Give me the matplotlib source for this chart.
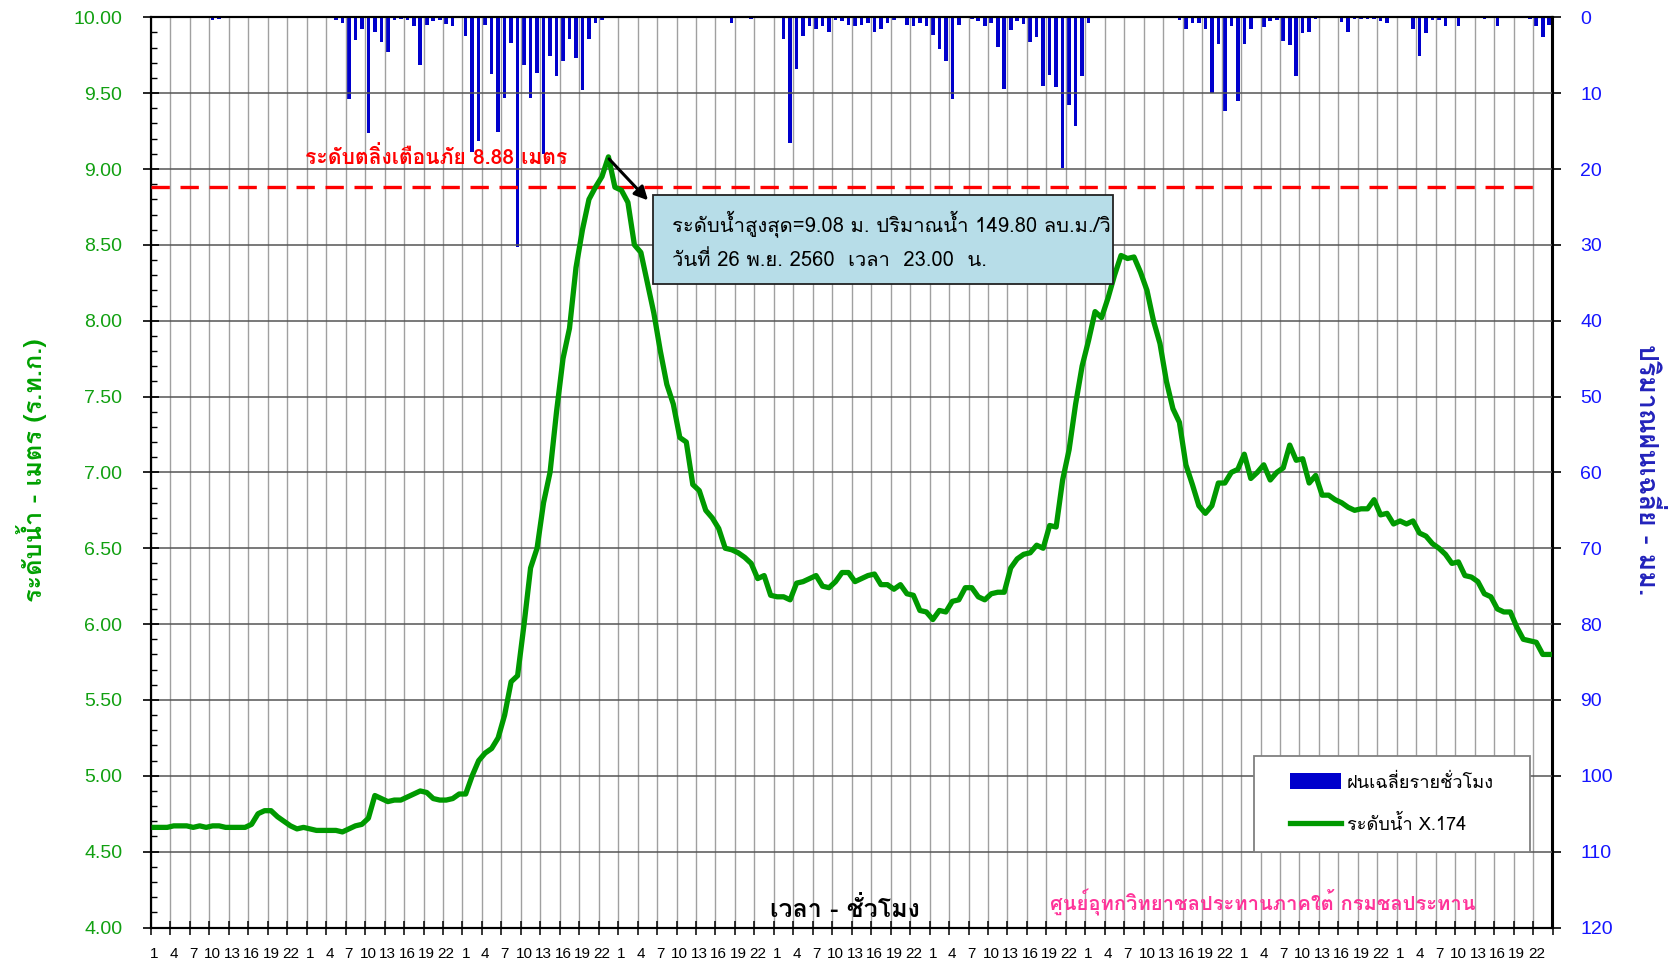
import matplotlib
matplotlib.use('Agg')
import matplotlib.pyplot as plt
from matplotlib import font_manager
from matplotlib.ft2font import FT2Font
from matplotlib.patches import Rectangle
import numpy as np

# ---------------- data ----------------
hour_labels = ['1', '4', '7', '10', '13', '16', '19', '22']
n_days = 9

level_d1 = [4.66, 4.66, 4.66, 4.67, 4.67, 4.67, 4.66, 4.67, 4.66, 4.67, 4.67, 4.66, 4.66, 4.66, 4.66, 4.68, 4.75, 4.77, 4.77, 4.73, 4.70, 4.67, 4.65, 4.66]
level_d2 = [4.65, 4.64, 4.64, 4.64, 4.64, 4.63, 4.65, 4.67, 4.68, 4.72, 4.87, 4.85, 4.83, 4.84, 4.84, 4.86, 4.88, 4.90, 4.89, 4.85, 4.84, 4.84, 4.85, 4.88]
level_d3 = [4.88, 5.00, 5.10, 5.15, 5.18, 5.25, 5.40, 5.62, 5.66, 6.00, 6.37, 6.50, 6.80, 7.00, 7.40, 7.75, 7.95, 8.35, 8.60, 8.80, 8.88, 8.95, 9.08, 8.88]
level_d4 = [8.86, 8.78, 8.50, 8.45, 8.25, 8.05, 7.80, 7.58, 7.45, 7.23, 7.20, 6.92, 6.88, 6.75, 6.70, 6.63, 6.50, 6.49, 6.47, 6.44, 6.40, 6.30, 6.32, 6.19]
level_d5 = [6.18, 6.18, 6.16, 6.27, 6.28, 6.30, 6.32, 6.25, 6.24, 6.28, 6.34, 6.34, 6.28, 6.30, 6.32, 6.33, 6.26, 6.26, 6.23, 6.26, 6.20, 6.19, 6.09, 6.08]
level_d6 = [6.03, 6.09, 6.08, 6.15, 6.16, 6.24, 6.24, 6.18, 6.16, 6.20, 6.21, 6.21, 6.37, 6.43, 6.46, 6.47, 6.52, 6.50, 6.65, 6.64, 6.95, 7.15, 7.45, 7.70]
level_d7 = [7.87, 8.06, 8.02, 8.15, 8.30, 8.43, 8.41, 8.42, 8.32, 8.20, 8.00, 7.85, 7.60, 7.42, 7.33, 7.05, 6.92, 6.78, 6.73, 6.78, 6.93, 6.93, 7.00, 7.02]
level_d8 = [7.12, 6.96, 7.00, 7.05, 6.95, 7.00, 7.03, 7.18, 7.08, 7.09, 6.93, 6.98, 6.85, 6.85, 6.82, 6.80, 6.77, 6.75, 6.76, 6.76, 6.82, 6.72, 6.73, 6.66]
level_d9 = [6.68, 6.66, 6.68, 6.60, 6.58, 6.53, 6.50, 6.46, 6.40, 6.41, 6.32, 6.31, 6.28, 6.20, 6.18, 6.10, 6.08, 6.08, 5.98, 5.90, 5.89, 5.88, 5.80, 5.80]

rain_d1 = [0, 0, 0, 0, 0, 0, 0, 0, 0, 0.3, 0.2, 0, 0, 0, 0.1, 0, 0, 0, 0, 0, 0, 0, 0, 0]
rain_d2 = [0, 0, 0, 0, 0.35, 0.8, 10.8, 3.0, 1.6, 15.3, 1.9, 3.3, 4.6, 0.3, 0.2, 0.3, 1.1, 6.3, 1.0, 0.5, 0.4, 0.9, 1.1, 0.1]
rain_d3 = [2.4, 17.8, 16.3, 1.0, 7.5, 15.1, 10.6, 3.4, 30.3, 6.3, 10.6, 7.4, 18.0, 5.1, 7.7, 5.7, 2.9, 5.3, 9.6, 2.9, 0.8, 0.3, 0, 0]
rain_d4 = [0, 0, 0, 0, 0, 0, 0, 0, 0, 0, 0, 0, 0, 0, 0, 0, 0, 0.7, 0.15, 0, 0.2, 0, 0, 0]
rain_d5 = [0, 2.8, 16.6, 6.8, 2.4, 1.1, 1.6, 1.1, 2.0, 0.4, 0.45, 1.0, 1.1, 1.0, 0.8, 2.0, 1.6, 0.7, 0.3, 0.1, 1.0, 1.1, 0.7, 1.2]
rain_d6 = [2.3, 4.2, 5.7, 10.8, 1.0, 0, 0.2, 0.5, 1.1, 0.8, 3.9, 9.5, 1.7, 0.5, 0.9, 3.2, 2.6, 9.0, 7.6, 9.2, 19.9, 11.5, 14.3, 7.8]
rain_d7 = [0.8, 0.1, 0, 0, 0, 0, 0, 0.1, 0, 0, 0, 0, 0, 0, 0.35, 1.6, 0.75, 0.7, 1.6, 10.0, 3.5, 12.4, 1.2, 11.1]
rain_d8 = [3.5, 1.6, 0.1, 1.3, 0.5, 0.4, 3.1, 3.7, 7.8, 2.1, 2.0, 0.2, 0, 0.1, 0, 0.6, 2.0, 0.2, 0.2, 0.2, 0.2, 0.5, 0.7, 0]
rain_d9 = [0, 0, 1.5, 5.1, 2.1, 0.4, 0.3, 1.2, 0, 1.1, 0, 0, 0, 0.2, 0, 1.1, 0.1, 0, 0, 0, 0.2, 1.1, 2.6, 1.0]

warning_level = 8.88
peak_index = 70
peak_value = 9.08

level = level_d1 + level_d2 + level_d3 + level_d4 + level_d5 + level_d6 + level_d7 + level_d8 + level_d9
rain = rain_d1 + rain_d2 + rain_d3 + rain_d4 + rain_d5 + rain_d6 + rain_d7 + rain_d8 + rain_d9

# ---------------- fonts ----------------
thai = []
for fe in font_manager.fontManager.ttflist:
    try:
        if 0x0E01 in FT2Font(fe.fname).get_charmap():
            thai.append(fe.name)
    except Exception:
        pass
thai = sorted(set(thai))
pref = ['Tahoma', 'Leelawadee UI', 'Loma', 'Noto Sans Thai', 'Garuda', 'Kinnari', 'Norasi', 'Sarabun']
thai_font = None
for p in pref:
    if p in thai:
        thai_font = p
        break
if thai_font is None and thai:
    thai_font = thai[0]
fam = ['Liberation Sans'] + ([thai_font] if thai_font else []) + ['DejaVu Sans']
thai_fam = ([thai_font] if thai_font else []) + ['Liberation Sans', 'DejaVu Sans']
plt.rcParams['font.family'] = fam

# ---------------- figure ----------------
W, H = 1673, 965
fig = plt.figure(figsize=(W / 100, H / 100), dpi=100)
x0, x1, ytop, ybot = 151, 1552.5, 17.3, 927.5
ax = fig.add_axes([x0 / W, 1 - ybot / H, (x1 - x0) / W, (ybot - ytop) / H])
ax2 = ax.twinx()
ax.set_zorder(ax2.get_zorder() + 1)
ax.patch.set_visible(False)

n = len(level)
x = np.arange(n) + 0.5

bars = ax2.bar(x, rain, width=0.55, color='#0000CC', label='ฝนเฉลี่ยรายชั่วโมง')
ax2.set_ylim(120, 0)
ax2.set_yticks(np.arange(0, 121, 10))
ax2.tick_params(axis='y', direction='out', length=6.3, width=1.2, pad=13.8,
                labelsize=14, labelcolor='#1515FF', color='black')

line, = ax.plot(x, level, color='#009900', lw=3.8, solid_joinstyle='round', zorder=5,
                label='ระดับน้ำ X.174')
ax.set_xlim(0, n)
ax.set_ylim(4, 10)
ax.set_yticks(np.arange(4, 10.01, 0.5))
ax.set_yticks(np.arange(4, 10.01, 0.1), minor=True)
ax.yaxis.set_major_formatter(matplotlib.ticker.FormatStrFormatter('%.2f'))
ax.tick_params(axis='y', which='major', direction='inout', length=11.5, width=1.2, pad=14.8,
               labelsize=14, labelcolor='#11A011')
ax.tick_params(axis='y', which='minor', direction='in', length=4, width=1)

ax.set_xticks(np.arange(0, n + 1, 3))
ax.set_xticks(np.arange(0.5, n, 3), minor=True)
ax.set_xticklabels([])
ax.set_xticklabels([hour_labels[i % 8] for i in range(n // 3)], minor=True)
ax.tick_params(axis='x', which='major', direction='inout', length=9.5, width=1.1)
ax.tick_params(axis='x', which='minor', length=0, pad=14, labelsize=11)

ax.grid(axis='x', which='major', color='#A0A0A0', lw=1.0)
ax.grid(axis='y', which='major', color='#555555', lw=1.1)
for a in (ax, ax2):
    for s in a.spines.values():
        s.set_linewidth(1.5)
        s.set_color('black')

# warning line
ax.plot([0, 213.6], [warning_level, warning_level], color='#FF0000', lw=2.4,
        dashes=(5.5, 3.2), zorder=4)
ax.text(23.7, 9.033, 'ระดับตลิ่งเตือนภัย 8.88 เมตร', color='#FF0000', fontsize=15.2,
        fontweight='bold', family=thai_fam, ha='left', va='baseline', zorder=6)

# annotation box
bx0, bx1, by0, by1 = 77.4, 148.2, 8.242, 8.829
ax.add_patch(Rectangle((bx0, by0), bx1 - bx0, by1 - by0, facecolor='#B7DDE8',
                       edgecolor='#222222', lw=1.3, zorder=7))
ax.text(80.3, 8.59, 'ระดับน้ำสูงสุด=9.08 ม. ปริมาณน้ำ 149.80 ลบ.ม./วิ', fontsize=14.5,
        family=thai_fam, color='black', va='baseline', ha='left', zorder=8)
ax.text(80.3, 8.36, 'วันที่ 26 พ.ย. 2560  เวลา  23.00  น.', fontsize=14.5,
        family=thai_fam, color='black', va='baseline', ha='left', zorder=8)
ax.annotate('', xy=(76.9, 8.78), xytext=(peak_index + 0.3, peak_value),
            arrowprops=dict(arrowstyle='-|>', color='black', lw=2.2, mutation_scale=20),
            zorder=8)

# legend
lx0, ly0, lw_, lh_ = 0.787, 0.083, 0.197, 0.1058
ax.add_patch(Rectangle((lx0, ly0), lw_, lh_, transform=ax.transAxes, facecolor='white',
                       edgecolor='#808080', lw=1.3, zorder=9))
leg = ax.legend([bars, line], ['ฝนเฉลี่ยรายชั่วโมง', 'ระดับน้ำ X.174'],
                loc='center', bbox_to_anchor=(lx0 + lw_ / 2, ly0 + lh_ / 2),
                frameon=False, handlelength=2.8, handleheight=0.95,
                handletextpad=0.3, labelspacing=1.3, prop={'family': thai_fam, 'size': 13.1})
leg.set_zorder(10)

ax.text(107, 4.07, 'เวลา - ชั่วโมง', fontsize=18, fontweight='bold', family=thai_fam,
        ha='center', va='baseline', color='black', zorder=6)
ax.text(138.5, 4.11, 'ศูนย์อุทกวิทยาชลประทานภาคใต้ กรมชลประทาน', fontsize=14.5,
        fontweight='bold', family=thai_fam, ha='left', va='baseline', color='#FF3399', zorder=6)

fig.text(32 / W, 1 - 470 / H, 'ระดับน้ำ - เมตร (ร.ท.ก.)', rotation=90, color='#00A000',
         fontsize=18.2, fontweight='bold', family=thai_fam, ha='center', va='center')
fig.text(1648 / W, 1 - 470 / H, 'ปริมาณฝนเฉลี่ย - มม.', rotation=270, color='#2222BB',
         fontsize=19.2, fontweight='bold', family=thai_fam, ha='center', va='center')

fig.savefig('out.png', dpi=100)
